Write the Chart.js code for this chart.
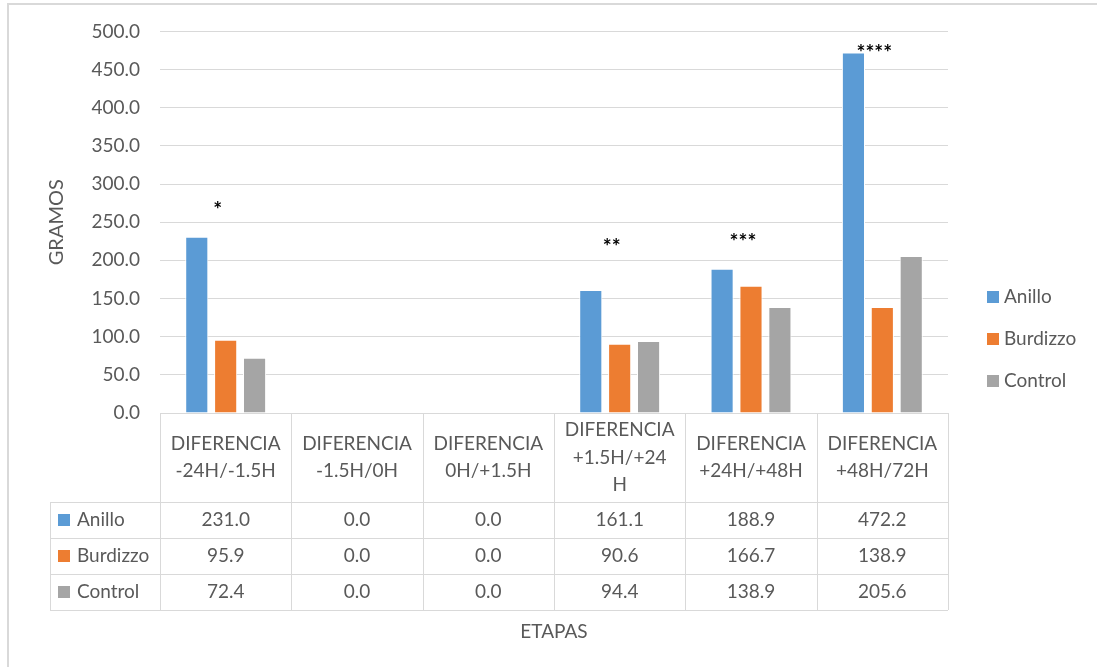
<!DOCTYPE html>
<html>
<head>
    <title>Diferencia de peso por etapa</title>
    <script src="https://cdn.jsdelivr.net/npm/chart.js"></script>
    <style>
        body { margin: 0; background: #fff; }
        #wrap { position: relative; width: 1097px; height: 667px; }
    </style>
</head>
<body>
    <div id="wrap"><canvas id="pesoChart"></canvas></div>

    <script>
    const etapas = [
        ['DIFERENCIA', '-24H/-1.5H'],
        ['DIFERENCIA', '-1.5H/0H'],
        ['DIFERENCIA', '0H/+1.5H'],
        ['DIFERENCIA', '+1.5H/+24', 'H'],
        ['DIFERENCIA', '+24H/+48H'],
        ['DIFERENCIA', '+48H/72H']
    ];
    const anillo = [231.0, 0.0, 0.0, 161.1, 188.9, 472.2];
    const burdizzo = [95.9, 0.0, 0.0, 90.6, 166.7, 138.9];
    const control = [72.4, 0.0, 0.0, 94.4, 138.9, 205.6];
    const yTicks = [0, 50, 100, 150, 200, 250, 300, 350, 400, 450, 500];

    // significance marks over each group, and the height (gramos) they sit at
    const asteriscos = ['*', '', '', '**', '***', '****'];
    const nivelAsterisco = [272, null, null, 224, 230, 478];

    const FONT = 'Lato, "Liberation Sans", sans-serif';
    const TEXT = '#595959';
    const LINE = '#d9d9d9';

    // data table under the plot, legend on the right, frame and marks
    const extras = {
        id: 'extras',
        beforeDraw(chart) {
            const ctx = chart.ctx;
            ctx.save();
            ctx.strokeStyle = LINE;
            ctx.lineWidth = 2;
            ctx.beginPath();
            ctx.moveTo(8, chart.height);
            ctx.lineTo(8, 4);
            ctx.lineTo(chart.width, 4);
            ctx.stroke();
            ctx.restore();
        },
        afterDraw(chart) {
            const ctx = chart.ctx;
            const area = chart.chartArea;
            const y = chart.scales.y;
            const n = etapas.length;
            const colW = (area.right - area.left) / n;
            const tableLeft = 50;
            const headBottom = 502;
            const rowH = 36;
            const sets = chart.data.datasets;

            ctx.save();
            ctx.strokeStyle = LINE;
            ctx.lineWidth = 1;
            ctx.beginPath();
            // header top & column lines
            ctx.moveTo(area.left, area.bottom + 0.5);
            ctx.lineTo(area.right, area.bottom + 0.5);
            for (let i = 0; i <= n; i++) {
                const cx = Math.round(area.left + i * colW) + 0.5;
                ctx.moveTo(cx, area.bottom);
                ctx.lineTo(cx, headBottom + rowH * sets.length);
            }
            ctx.moveTo(tableLeft + 0.5, headBottom);
            ctx.lineTo(tableLeft + 0.5, headBottom + rowH * sets.length);
            for (let r = 0; r <= sets.length; r++) {
                const ry = headBottom + r * rowH + 0.5;
                ctx.moveTo(tableLeft, ry);
                ctx.lineTo(area.right, ry);
            }
            ctx.stroke();

            ctx.fillStyle = TEXT;
            ctx.font = '19px ' + FONT;
            ctx.textAlign = 'center';
            ctx.textBaseline = 'middle';
            const headMid = (area.bottom + headBottom) / 2;
            etapas.forEach((lines, i) => {
                const cx = area.left + (i + 0.5) * colW;
                const lh = 27.5;
                const y0 = headMid - (lines.length - 1) * lh / 2;
                lines.forEach((t, k) => ctx.fillText(t, cx, y0 + k * lh));
            });

            sets.forEach((ds, r) => {
                const ry = headBottom + (r + 0.5) * rowH;
                ctx.fillStyle = ds.backgroundColor;
                ctx.fillRect(58, ry - 6, 12, 12);
                ctx.fillStyle = TEXT;
                ctx.textAlign = 'left';
                ctx.fillText(ds.label, 77, ry);
                ctx.textAlign = 'center';
                ds.data.forEach((v, i) => {
                    ctx.fillText(v.toFixed(1), area.left + (i + 0.5) * colW, ry);
                });
            });

            // legend
            sets.forEach((ds, r) => {
                const ly = 297 + r * 42;
                ctx.fillStyle = ds.backgroundColor;
                ctx.fillRect(987, ly - 6, 12, 12);
                ctx.fillStyle = TEXT;
                ctx.textAlign = 'left';
                ctx.fillText(ds.label, 1004, ly);
            });

            // axis title
            ctx.textAlign = 'center';
            ctx.fillText('ETAPAS', (area.left + area.right) / 2, 632);

            // significance asterisks
            ctx.fillStyle = '#000';
            ctx.font = 'bold 21px ' + FONT;
            asteriscos.forEach((s, i) => {
                if (!s) return;
                const cx = area.left + (i + 0.5) * colW - 8;
                ctx.fillText(s, cx, y.getPixelForValue(nivelAsterisco[i]) + 5);
            });
            ctx.restore();
        }
    };

    new Chart(document.getElementById('pesoChart').getContext('2d'), {
        type: 'bar',
        data: {
            labels: etapas,
            datasets: [
                { label: 'Anillo', data: anillo, backgroundColor: '#5b9bd5' },
                { label: 'Burdizzo', data: burdizzo, backgroundColor: '#ed7d31' },
                { label: 'Control', data: control, backgroundColor: '#a5a5a5' }
            ]
        },
        options: {
            responsive: true,
            maintainAspectRatio: false,
            animation: false,
            layout: { padding: { left: 0, top: 31, right: 149, bottom: 254 } },
            datasets: {
                bar: {
                    categoryPercentage: 0.66,
                    barPercentage: 0.8,
                    borderColor: '#ffffff',
                    borderWidth: 1
                }
            },
            plugins: {
                legend: { display: false },
                tooltip: { enabled: false }
            },
            scales: {
                x: { display: false },
                y: {
                    min: 0,
                    max: 500,
                    afterBuildTicks: s => { s.ticks = yTicks.map(v => ({ value: v })); },
                    afterFit: s => { s.width = 160; },
                    border: { display: false },
                    grid: { color: LINE, drawTicks: false },
                    ticks: {
                        padding: 20,
                        color: TEXT,
                        font: { family: FONT, size: 19 },
                        callback: v => Number(v).toFixed(1)
                    },
                    title: {
                        display: true,
                        text: 'GRAMOS',
                        color: TEXT,
                        font: { family: FONT, size: 20 },
                        padding: { top: 45, bottom: 0 }
                    }
                }
            }
        },
        plugins: [extras]
    });
    </script>
</body>
</html>
